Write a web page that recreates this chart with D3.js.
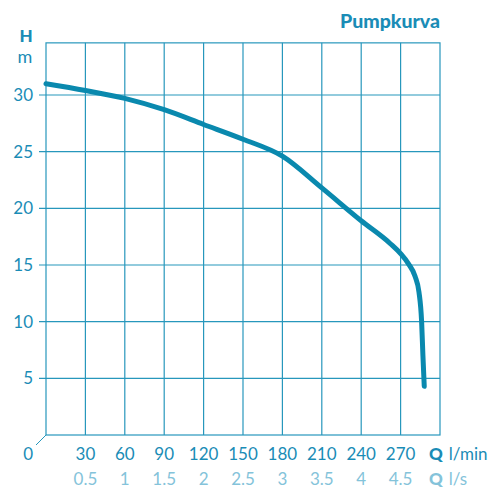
<!DOCTYPE html>
<html>
<head>
<meta charset="utf-8">
<script src="https://cdn.jsdelivr.net/npm/d3@7"></script>
<style>
  html, body { margin: 0; padding: 0; background: #fff; }
  svg { display: block; font-family: 'Lato', 'Open Sans', sans-serif; }
</style>
</head>
<body>
<figure id="chart" style="margin:0"></figure>
<script>
// pump curve
const flowLpm = [0, 30, 60, 90, 120, 150, 180, 210, 240, 262, 270, 276, 281, 284, 286, 287, 288];
const headM = [31.0, 30.4, 29.7, 28.7, 27.4, 26.1, 24.6, 21.8, 18.9, 16.9, 16.0, 15.1, 14.0, 12.6, 10.0, 7.0, 4.3];
const xTicks = [30, 60, 90, 120, 150, 180, 210, 240, 270];
const lpsLabels = ['0.5', '1', '1.5', '2', '2.5', '3', '3.5', '4', '4.5'];
const yTicks = [5, 10, 15, 20, 25, 30];

const W = 497, H = 488;
const dark = '#1a8cb6', light = '#84c3da', grid = '#2797bc', curveColor = '#0a89ae';

const x = d3.scaleLinear().domain([0, 300]).range([46, 440]);
const y = d3.scaleLinear().domain([0, 30]).range([435, 95]);
const yTop = 34.6;

const svg = d3.select('#chart').append('svg').attr('width', W).attr('height', H);

// grid
svg.append('g').selectAll('line').data(xTicks).enter().append('line')
  .attr('x1', d => x(d)).attr('x2', d => x(d))
  .attr('y1', y(yTop)).attr('y2', y(0))
  .attr('stroke', grid).attr('stroke-width', 1.2);
svg.append('g').selectAll('line').data(yTicks).enter().append('line')
  .attr('x1', x(0) - 7).attr('x2', x(300))
  .attr('y1', d => y(d)).attr('y2', d => y(d))
  .attr('stroke', grid).attr('stroke-width', 1.2);

// frame
svg.append('rect')
  .attr('x', x(0)).attr('y', y(yTop))
  .attr('width', x(300) - x(0)).attr('height', y(0) - y(yTop))
  .attr('fill', 'none').attr('stroke', grid).attr('stroke-width', 1.2);

// little diagonal at origin
svg.append('line')
  .attr('x1', x(0) - 10).attr('y1', y(0) + 10)
  .attr('x2', x(0)).attr('y2', y(0))
  .attr('stroke', grid).attr('stroke-width', 1);

// y labels
svg.append('g').selectAll('text').data(yTicks).enter().append('text')
  .attr('x', 33).attr('y', d => y(d)).attr('dy', '0.36em')
  .attr('text-anchor', 'end').attr('fill', dark)
  .style('font-size', '17px').text(d => d);

svg.append('text').attr('x', 33).attr('y', 460).attr('text-anchor', 'end')
  .attr('fill', dark).style('font-size', '17px').text('0');

// x labels, l/min and l/s
svg.append('g').selectAll('text').data(xTicks).enter().append('text')
  .attr('x', d => x(d)).attr('y', 460).attr('text-anchor', 'middle')
  .attr('fill', dark).style('font-size', '17px').text(d => d);
svg.append('g').selectAll('text').data(lpsLabels).enter().append('text')
  .attr('x', (d, i) => x(xTicks[i])).attr('y', 485).attr('text-anchor', 'middle')
  .attr('fill', light).style('font-size', '17px').text(d => d);

const unit1 = svg.append('text').attr('x', 429).attr('y', 460).attr('fill', dark).style('font-size', '17px');
unit1.append('tspan').style('font-weight', 900).text('Q');
unit1.append('tspan').attr('dx', 6).text('l/min');
const unit2 = svg.append('text').attr('x', 429).attr('y', 485).attr('fill', light).style('font-size', '17px');
unit2.append('tspan').style('font-weight', 900).text('Q');
unit2.append('tspan').attr('dx', 6).text('l/s');

// axis title and chart title
svg.append('text').attr('x', 26).attr('y', 42).attr('text-anchor', 'middle')
  .attr('fill', dark).style('font-size', '17px').style('font-weight', 900).text('H');
svg.append('text').attr('x', 25).attr('y', 63).attr('text-anchor', 'middle')
  .attr('fill', dark).style('font-size', '18px').text('m');
svg.append('text').attr('x', 440).attr('y', 28).attr('text-anchor', 'end')
  .attr('fill', dark).style('font-size', '19.5px').style('font-weight', 900).text('Pumpkurva');

// curve
const pts = flowLpm.map((q, i) => ({ q: q, h: headM[i] }));
const line = d3.line().x(d => x(d.q)).y(d => y(d.h)).curve(d3.curveMonotoneX);
svg.append('path').datum(pts).attr('d', line)
  .attr('fill', 'none').attr('stroke', curveColor)
  .attr('stroke-width', 5).attr('stroke-linecap', 'round').attr('stroke-linejoin', 'round');
</script>
</body>
</html>
